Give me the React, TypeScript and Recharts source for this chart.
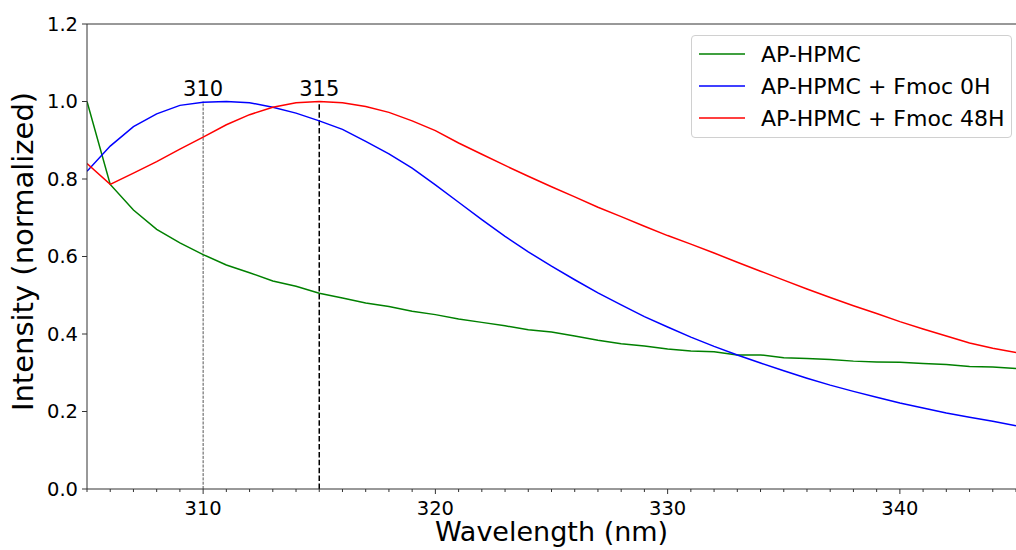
import React from 'react';
import { LineChart, Line, XAxis, YAxis, ReferenceLine, Legend, Label } from 'recharts';

const wavelengths = [
  305, 306, 307, 308, 309, 310, 311, 312, 313, 314, 315, 316, 317, 318, 319, 320, 321, 322, 323, 324, 325,
  326, 327, 328, 329, 330, 331, 332, 333, 334, 335, 336, 337, 338, 339, 340, 341, 342, 343, 344, 345,
];

const apHpmc = [
  1.0, 0.786, 0.72, 0.67, 0.635, 0.605, 0.578, 0.558, 0.537, 0.523, 0.505, 0.493, 0.48, 0.471, 0.459, 0.45,
  0.439, 0.43, 0.421, 0.411, 0.405, 0.395, 0.384, 0.375, 0.369, 0.361, 0.356, 0.354, 0.346, 0.346, 0.339,
  0.337, 0.334, 0.33, 0.328, 0.327, 0.324, 0.321, 0.316, 0.315, 0.311,
];

const fmoc0h = [
  0.82, 0.885, 0.935, 0.968, 0.99, 0.998, 1.0, 0.997, 0.985, 0.97, 0.95, 0.928, 0.897, 0.865, 0.828, 0.785,
  0.74, 0.695, 0.652, 0.612, 0.575, 0.54, 0.506, 0.475, 0.445, 0.418, 0.392, 0.368, 0.346, 0.325, 0.305,
  0.286, 0.268, 0.252, 0.237, 0.222, 0.209, 0.196, 0.185, 0.175, 0.163,
];

const fmoc48h = [
  0.84, 0.786, 0.815, 0.845, 0.877, 0.908, 0.94, 0.966, 0.985, 0.997, 1.0, 0.997, 0.987, 0.972, 0.95, 0.925,
  0.893, 0.864, 0.835, 0.807, 0.78, 0.754, 0.727, 0.703, 0.678, 0.654, 0.632, 0.609, 0.585, 0.562, 0.539,
  0.516, 0.494, 0.473, 0.453, 0.432, 0.413, 0.395, 0.377, 0.363, 0.352,
];

const majorXTicks = [310, 320, 330, 340];
const yTicks = [0, 0.2, 0.4, 0.6, 0.8, 1.0, 1.2];

// peak markers: wavelength + height of the vertical guide
const peakMarkers = [
  { x: 310, top: 1.0, dash: '3 1.3', color: '#555', width: 1 },
  { x: 315, top: 1.0, dash: '5.5 2.4', color: '#000', width: 1.5 },
];

const data = wavelengths.map((w, i) => ({
  w,
  ap: apHpmc[i],
  f0: fmoc0h[i],
  f48: fmoc48h[i],
}));

const FONT = '"DejaVu Sans", sans-serif';
const AXIS = '#333';

const XTick = (props: any) => {
  const { x, y, payload } = props;
  const major = majorXTicks.includes(payload.value);
  return (
    <g>
      <line x1={x} x2={x} y1={y} y2={y + (major ? 5 : 3)} stroke={AXIS} strokeWidth={1} />
      {major && (
        <text x={x} y={y + 10} dy="0.8em" textAnchor="middle" fontSize={19.5} fontFamily={FONT} fill="#000">
          {payload.value}
        </text>
      )}
    </g>
  );
};

const renderLegend = (props: any) => {
  const items = props.payload || [];
  return (
    <div
      style={{
        border: '1px solid #d0d0d0',
        borderRadius: 4,
        background: 'rgba(255,255,255,0.85)',
        padding: '2px 6px 3px 7px',
        fontFamily: FONT,
        fontSize: 22,
        color: '#000',
      }}
    >
      {items.map((it: any) => (
        <div key={it.value} style={{ display: 'flex', alignItems: 'center', height: 32 }}>
          <svg width={46} height={4} style={{ display: 'block' }}>
            <line x1={0} x2={46} y1={2} y2={2} stroke={it.color} strokeWidth={1.5} />
          </svg>
          <span style={{ marginLeft: 16, whiteSpace: 'nowrap' }}>{it.value}</span>
        </div>
      ))}
    </div>
  );
};

export default function App() {
  return (
    <div style={{ position: 'absolute', left: 0, top: 0, width: 1016, height: 550, background: '#fff' }}>
      <LineChart width={1016} height={550} data={data} margin={{ top: 24, right: 0, left: 0, bottom: 0 }}>
        <XAxis
          dataKey="w"
          type="number"
          domain={[305, 345]}
          ticks={wavelengths}
          interval={0}
          tickSize={0}
          tickMargin={0}
          tick={<XTick />}
          height={61}
          stroke={AXIS}
          allowDataOverflow
        >
          <Label
            content={(p: any) => {
              const vb = p.viewBox;
              return (
                <text x={vb.x + vb.width / 2} y={531} textAnchor="middle" dominantBaseline="central" fontSize={27} fontFamily={FONT} fill="#000">
                  Wavelength (nm)
                </text>
              );
            }}
          />
        </XAxis>
        <YAxis
          type="number"
          domain={[0, 1.2]}
          ticks={yTicks}
          width={87}
          tickSize={5}
          tickMargin={4}
          tickFormatter={(v: number) => v.toFixed(1)}
          tick={{ fontSize: 19.5, fontFamily: FONT, fill: '#000' }}
          stroke={AXIS}
          allowDataOverflow
        >
          <Label
            content={(p: any) => {
              const vb = p.viewBox;
              const cx = 23;
              const cy = vb.y + vb.height / 2 - 5;
              return (
                <text
                  x={cx}
                  y={cy}
                  transform={`rotate(-90 ${cx} ${cy})`}
                  textAnchor="middle"
                  dominantBaseline="central"
                  fontSize={29}
                  fontFamily={FONT}
                  fill="#000"
                >
                  Intensity (normalized)
                </text>
              );
            }}
          />
        </YAxis>
        <ReferenceLine y={1.2} stroke={AXIS} strokeWidth={1} />
        {peakMarkers.map((m) => (
          <ReferenceLine
            key={m.x}
            segment={[
              { x: m.x, y: 0 },
              { x: m.x, y: m.top },
            ]}
            stroke={m.color}
            strokeWidth={m.width}
            strokeDasharray={m.dash}
            label={{ value: String(m.x), position: 'top', offset: 6, fontSize: 21, fontFamily: FONT, fill: '#000' }}
          />
        ))}
        <Line type="linear" dataKey="ap" name="AP-HPMC" stroke="#008000" strokeWidth={1.5} dot={false} isAnimationActive={false} />
        <Line type="linear" dataKey="f0" name="AP-HPMC + Fmoc 0H" stroke="#0000ff" strokeWidth={1.5} dot={false} isAnimationActive={false} />
        <Line type="linear" dataKey="f48" name="AP-HPMC + Fmoc 48H" stroke="#ff0000" strokeWidth={1.5} dot={false} isAnimationActive={false} />
        <Legend
          layout="vertical"
          verticalAlign="middle"
          align="center"
          content={renderLegend}
          wrapperStyle={{ left: 691, top: 35, width: 'auto', right: 'auto', bottom: 'auto' }}
        />
      </LineChart>
    </div>
  );
}
